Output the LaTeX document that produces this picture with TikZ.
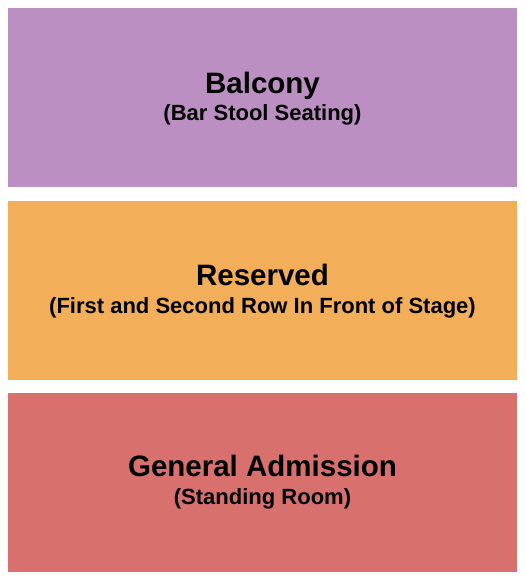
\documentclass[tikz,border=0pt]{standalone}
\usepackage{fontspec}
\setmainfont{Liberation Sans}
\usepackage{xcolor}

\definecolor{balconycol}{RGB}{188,143,194}
\definecolor{reservedcol}{RGB}{243,174,90}
\definecolor{gacol}{RGB}{216,112,110}

\begin{document}
\begin{tikzpicture}[x=1pt,y=-1pt,
  section/.style={rectangle,inner sep=0pt,minimum width=509pt,minimum height=179pt},
  title/.style={anchor=base,inner sep=0pt,font=\fontsize{29.5}{31}\selectfont\bfseries,text=black},
  sub/.style={anchor=base,inner sep=0pt,font=\fontsize{22}{24}\selectfont\bfseries,text=black}]

\useasboundingbox (0,0) rectangle (525,580);

\node(balcony) at (262.5,97.5)[section,fill=balconycol] {};
\node(reserved) at (262.5,290.5)[section,fill=reservedcol] {};
\node(ga) at (262.5,482.5)[section,fill=gacol] {};

\node(balconyt) at (262.5,93.5)[title] {Balcony};
\node(balconys) at (262.5,121)[sub] {(Bar Stool Seating)};
\node(reservedt) at (262.5,285.5)[title] {Reserved};
\node(reserveds) at (262.5,313.5)[sub] {(First and Second Row In Front of Stage)};
\node(gat) at (262.5,476.5)[title] {General Admission};
\node(gas) at (262.5,504.5)[sub] {(Standing Room)};

\end{tikzpicture}
\end{document}
